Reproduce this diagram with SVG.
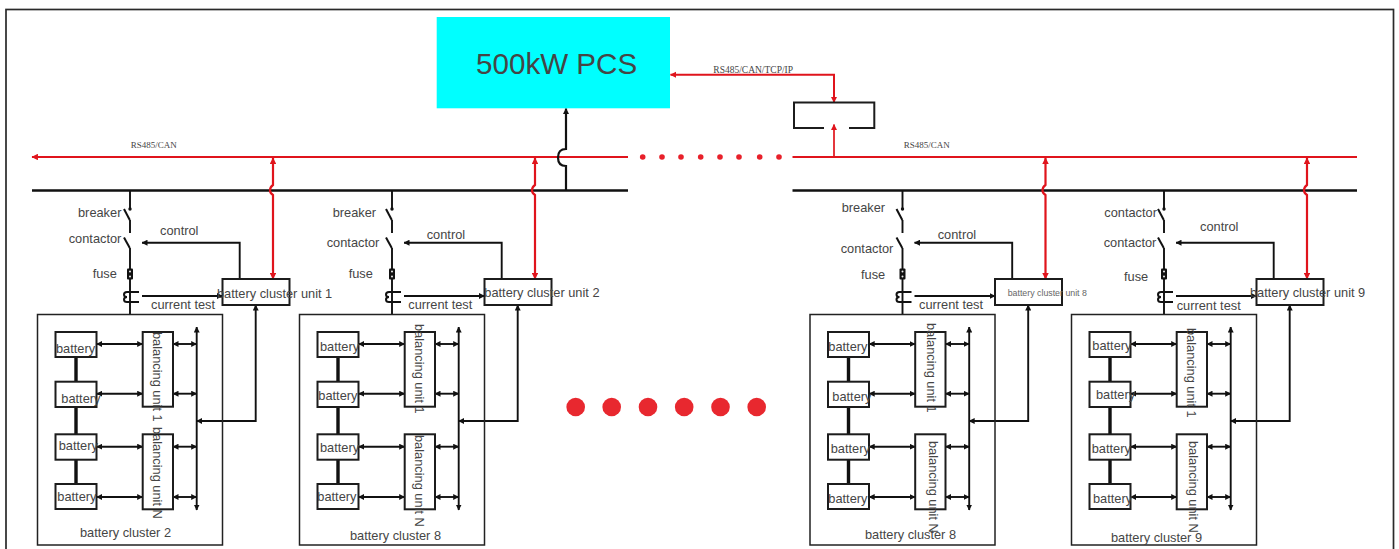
<svg xmlns="http://www.w3.org/2000/svg" xmlns:xlink="http://www.w3.org/1999/xlink" width="1399" height="549" viewBox="0 0 1399 549">
<style>
.t{font:12.8px "Liberation Sans",Arial,sans-serif;fill:#454545}
.s{font:8.8px "Liberation Sans",Arial,sans-serif;fill:#666}
.p{font:29.6px "Liberation Sans",Arial,sans-serif;fill:#454545}
.m{font:9px "Liberation Serif","Times New Roman",serif;fill:#444}
.b{fill:none;stroke:#1c1c1c;stroke-width:2}
.f{fill:none;stroke:#222;stroke-width:1.5}
.k{fill:none;stroke:#111;stroke-width:2}
.kk{fill:none;stroke:#111;stroke-width:3.4}
.l{fill:none;stroke:#111;stroke-width:1.9}
.bus{fill:none;stroke:#111;stroke-width:2.4}
.r{fill:none;stroke:#e0141c;stroke-width:2.2}
.rt{fill:none;stroke:#e0141c;stroke-width:1.7}
.da{marker-start:url(#ak);marker-end:url(#ak)}
.ea{marker-end:url(#ak)}
.dr{marker-start:url(#ar);marker-end:url(#ar)}
.er{marker-end:url(#ar)}
</style>
<defs>
<marker id="ak" viewBox="0 0 6 6" refX="5.5" refY="3" markerUnits="userSpaceOnUse" markerWidth="6" markerHeight="6" orient="auto-start-reverse"><path d="M0 0L6 3L0 6z" fill="#111"/></marker>
<marker id="ar" viewBox="0 0 6 6" refX="5.5" refY="3" markerUnits="userSpaceOnUse" markerWidth="6.5" markerHeight="6.5" orient="auto-start-reverse"><path d="M0 0L6 3L0 6z" fill="#e0141c"/></marker>
<rect id="frame" class="f" x="37.5" y="314.5" width="185" height="230.5"/>
<rect id="unit" class="b" x="222.5" y="279" width="67" height="26"/>
<rect id="bat1" class="b" x="55.5" y="332" width="41" height="25"/>
<rect id="bat2" class="b" x="55.5" y="381.7" width="41" height="25.3"/>
<rect id="bat3" class="b" x="55.5" y="434.3" width="41" height="25.4"/>
<rect id="bat4" class="b" x="55.5" y="484" width="41" height="25"/>
<rect id="bal1" class="b" x="142.7" y="332" width="30.3" height="74.7"/>
<rect id="bal2" class="b" x="142.7" y="434.3" width="30.3" height="75"/>
<g id="breaker"><path class="k" d="M124 209L129.8 220"/><circle cx="130" cy="209" r="1.7" fill="#111"/></g>
<path id="contactor" class="k" d="M124 237.5L129.8 248"/>
<g id="fuse"><rect x="127" y="268.5" width="6" height="11" rx="1" fill="#111"/><circle cx="130" cy="271.5" r="1" fill="#eee"/><circle cx="130" cy="276.5" r="1" fill="#eee"/></g>
<path id="ct" class="k" d="M139 292H127Q124 292 124 294.5Q124 297 127 297Q124 297 124 299.5Q124 302 127 302H139"/>
<g id="links">
<path class="l" d="M130 191V209M130 220V233M130 248V314"/>
<path class="kk" d="M76 357V381.7M76 407V434.3M76 459.7V484"/>
<path class="l da" d="M96.7 344H142.7"/>
<path class="l da" d="M96.7 393.7H142.7"/>
<path class="l da" d="M96.7 446.7H142.7"/>
<path class="l da" d="M96.7 497H142.7"/>
<path class="l da" d="M173 344H196.7"/>
<path class="l da" d="M173 393.7H196.7"/>
<path class="l da" d="M173 446.7H196.7"/>
<path class="l da" d="M173 497H196.7"/>
<path class="l da" d="M196.7 327V510"/>
<path class="l da" d="M196.7 421H255.7V305"/>
<path class="l ea" d="M239.7 279V242.7H142"/>
<path class="l ea" d="M142 296H222.5"/>
<path class="r dr" d="M273 158V185Q270 187 270 190.5Q270 193 273 195V279"/>
</g>
</defs>
<rect width="1399" height="549" fill="#fff"/>
<rect id="page-frame" x="6" y="9.5" width="1387.5" height="560" fill="none" stroke="#2a2a2a" stroke-width="1.7"/>
<g id="connectors">
<path class="r er" d="M628 157H32"/>
<path class="r" d="M792.5 157H1357"/>
<path class="bus" d="M32 190.5H628M792.5 190.5H1357"/>
<path class="k ea" style="stroke-width:2.2" d="M566 190V166Q558 166 558 157.5Q558 149 566 149V108.5"/>
<path class="rt er" d="M834 157V124.5"/>
<path class="rt dr" style="stroke-width:2" d="M670.5 74.7H834V102.5"/>
<use href="#links"/>
<use href="#links" x="262"/>
<use href="#links" x="772.5"/>
<use href="#links" x="1034"/>
</g>
<g id="pcs"><rect x="436.7" y="17" width="233.3" height="91.3" fill="#00ffff"/><text class="p" x="476" y="73.7">500kW PCS</text></g>
<g id="converter"><path class="b" d="M849 128H874.3V102.5H794V128H824"/></g>
<g id="bus-labels">
<text class="m" x="713.3" y="72.5" style="font-size:9.5px">RS485/CAN/TCP/IP</text>
<text class="m" x="130.7" y="147.5">RS485/CAN</text>
<text class="m" x="903.7" y="147.5">RS485/CAN</text>
</g>
<g id="dots-small" fill="#e8202a">
<circle cx="642.7" cy="157" r="2.8"/><circle cx="662" cy="157" r="2.8"/><circle cx="681" cy="157" r="2.8"/><circle cx="700.7" cy="157" r="2.8"/><circle cx="720" cy="157" r="2.8"/><circle cx="739" cy="157" r="2.8"/><circle cx="759.7" cy="157" r="2.8"/><circle cx="779" cy="157" r="2.8"/>
</g>
<g id="dots-large" fill="#e8282f">
<circle cx="575.7" cy="407" r="9.3"/><circle cx="611.7" cy="407" r="9.3"/><circle cx="648" cy="407" r="9.3"/><circle cx="684.2" cy="407" r="9.3"/><circle cx="720.5" cy="407" r="9.3"/><circle cx="756.7" cy="407" r="9.3"/>
</g>

<g id="cluster-1">
<g id="c1-breaker"><use href="#breaker"/><text class="t" x="78" y="217">breaker</text></g>
<g id="c1-contactor"><use href="#contactor"/><text class="t" x="68.7" y="243">contactor</text></g>
<g id="c1-control"><text class="t" x="160" y="235">control</text></g>
<g id="c1-fuse"><use href="#fuse"/><text class="t" x="92.7" y="278">fuse</text></g>
<g id="c1-ct"><use href="#ct"/><text class="t" x="151" y="308.5">current test</text></g>
<g id="c1-unit"><use href="#unit"/><text class="t" x="217" y="297.5">battery cluster unit 1</text></g>
<g id="c1-frame"><use href="#frame"/><text class="t" x="80" y="536.5">battery cluster 2</text></g>
<g id="c1-bat1"><use href="#bat1"/><text class="t" x="56" y="352.5">battery</text></g>
<g id="c1-bat2"><use href="#bat2"/><text class="t" x="61.3" y="402.5">battery</text></g>
<g id="c1-bat3"><use href="#bat3"/><text class="t" x="58.7" y="450">battery</text></g>
<g id="c1-bat4"><use href="#bat4"/><text class="t" x="57.3" y="501">battery</text></g>
<g id="c1-bal1"><use href="#bal1"/><text class="t" transform="translate(153 332) rotate(90)">balancing unit 1</text></g>
<g id="c1-bal2"><use href="#bal2"/><text class="t" transform="translate(153 427) rotate(90)">balancing unit N</text></g>
</g>

<g id="cluster-2">
<g id="c2-breaker"><use href="#breaker" x="262"/><text class="t" x="332.7" y="217">breaker</text></g>
<g id="c2-contactor"><use href="#contactor" x="262"/><text class="t" x="326.7" y="247">contactor</text></g>
<g id="c2-control"><text class="t" x="426.7" y="239">control</text></g>
<g id="c2-fuse"><use href="#fuse" x="262"/><text class="t" x="348.7" y="278">fuse</text></g>
<g id="c2-ct"><use href="#ct" x="262"/><text class="t" x="408.3" y="308.5">current test</text></g>
<g id="c2-unit"><use href="#unit" x="262"/><text class="t" x="484.3" y="297">battery cluster unit 2</text></g>
<g id="c2-frame"><use href="#frame" x="262"/><text class="t" x="350" y="540">battery cluster 8</text></g>
<g id="c2-bat1"><use href="#bat1" x="262"/><text class="t" x="320" y="351">battery</text></g>
<g id="c2-bat2"><use href="#bat2" x="262"/><text class="t" x="318.3" y="400">battery</text></g>
<g id="c2-bat3"><use href="#bat3" x="262"/><text class="t" x="320" y="452">battery</text></g>
<g id="c2-bat4"><use href="#bat4" x="262"/><text class="t" x="317.3" y="501">battery</text></g>
<g id="c2-bal1"><use href="#bal1" x="262"/><text class="t" transform="translate(415 324) rotate(90)">balancing unit 1</text></g>
<g id="c2-bal2"><use href="#bal2" x="262"/><text class="t" transform="translate(415 435) rotate(90)">balancing unit N</text></g>
</g>

<g id="cluster-3">
<g id="c3-breaker"><use href="#breaker" x="772.5"/><text class="t" x="841.7" y="212">breaker</text></g>
<g id="c3-contactor"><use href="#contactor" x="772.5"/><text class="t" x="840.7" y="253">contactor</text></g>
<g id="c3-control"><text class="t" x="937.7" y="238.5">control</text></g>
<g id="c3-fuse"><use href="#fuse" x="772.5"/><text class="t" x="861" y="279">fuse</text></g>
<g id="c3-ct"><use href="#ct" x="772.5"/><text class="t" x="919" y="309">current test</text></g>
<g id="c3-unit"><use href="#unit" x="772.5"/><text class="s" x="1007.7" y="296">battery cluster unit 8</text></g>
<g id="c3-frame"><use href="#frame" x="772.5"/><text class="t" x="865" y="538.5">battery cluster 8</text></g>
<g id="c3-bat1"><use href="#bat1" x="772.5"/><text class="t" x="828.3" y="351">battery</text></g>
<g id="c3-bat2"><use href="#bat2" x="772.5"/><text class="t" x="832.3" y="401">battery</text></g>
<g id="c3-bat3"><use href="#bat3" x="772.5"/><text class="t" x="830.7" y="452.5">battery</text></g>
<g id="c3-bat4"><use href="#bat4" x="772.5"/><text class="t" x="828.3" y="502.5">battery</text></g>
<g id="c3-bal1"><use href="#bal1" x="772.5"/><text class="t" transform="translate(927 323) rotate(90)">balancing unit 1</text></g>
<g id="c3-bal2"><use href="#bal2" x="772.5"/><text class="t" transform="translate(928.5 441) rotate(90)">balancing unit N</text></g>
</g>

<g id="cluster-4">
<g id="c4-breaker"><use href="#breaker" x="1034"/><text class="t" x="1104.3" y="217">contactor</text></g>
<g id="c4-contactor"><use href="#contactor" x="1034"/><text class="t" x="1103.7" y="246.5">contactor</text></g>
<g id="c4-control"><text class="t" x="1200" y="231">control</text></g>
<g id="c4-fuse"><use href="#fuse" x="1034"/><text class="t" x="1124" y="280.5">fuse</text></g>
<g id="c4-ct"><use href="#ct" x="1034"/><text class="t" x="1176.7" y="309.5">current test</text></g>
<g id="c4-unit"><use href="#unit" x="1034"/><text class="t" x="1250" y="297">battery cluster unit 9</text></g>
<g id="c4-frame"><use href="#frame" x="1034"/><text class="t" x="1111" y="541.5">battery cluster 9</text></g>
<g id="c4-bat1"><use href="#bat1" x="1034"/><text class="t" x="1092.3" y="350">battery</text></g>
<g id="c4-bat2"><use href="#bat2" x="1034"/><text class="t" x="1096" y="399">battery</text></g>
<g id="c4-bat3"><use href="#bat3" x="1034"/><text class="t" x="1091.7" y="453">battery</text></g>
<g id="c4-bat4"><use href="#bat4" x="1034"/><text class="t" x="1093" y="503">battery</text></g>
<g id="c4-bal1"><use href="#bal1" x="1034"/><text class="t" transform="translate(1187 328) rotate(90)">balancing unit 1</text></g>
<g id="c4-bal2"><use href="#bal2" x="1034"/><text class="t" transform="translate(1188.5 441) rotate(90)">balancing unit N</text></g>
</g>
</svg>
